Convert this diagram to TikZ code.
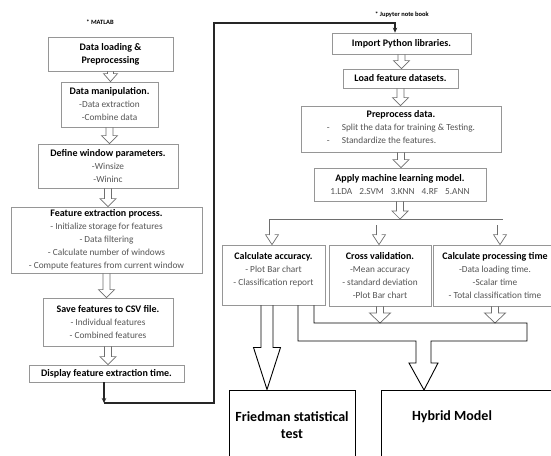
\documentclass[tikz,border=0pt]{standalone}
\usepackage{fontspec}
\setmainfont{Carlito}
\usetikzlibrary{calc,arrows.meta}

\definecolor{boxgray}{RGB}{150,150,150}
\definecolor{itemgray}{RGB}{85,85,85}
\definecolor{arrowgray}{RGB}{110,110,110}

\newcommand{\steptitle}[1]{\textcolor{black}{\fontsize{10}{13}\selectfont\bfseries #1}}
% hollow arrow pointing down: style, from, to, shaft half width, head half width, head length
\newcommand{\hollowdown}[6]{%
  \draw[#1] let \p1=(#2), \p2=(#3) in
    (\x1-#4,\y1) -- (\x1-#4,\y2+#6) -- (\x1-#5,\y2+#6) -- (\x1,\y2)
    -- (\x1+#5,\y2+#6) -- (\x1+#4,\y2+#6) -- (\x1+#4,\y1);}

\tikzset{
  stepbox/.style={draw=boxgray, line width=0.8pt, fill=white, align=center, inner sep=1pt,
    text=itemgray, font=\fontsize{9.3}{13}\selectfont},
  resultbox/.style={draw=black, line width=1pt, align=center, font=\fontsize{14}{17}\selectfont\bfseries},
  tooltag/.style={font=\fontsize{6.5}{8}\selectfont\bfseries},
  hollow/.style={draw=arrowgray, line width=0.7pt},
  pipe/.style={draw=arrowgray, line width=0.7pt, double=white, double distance=5pt},
  bigpipe/.style={draw=black, line width=0.9pt},
  link/.style={draw=black!85, line width=1.3pt, -{Stealth[length=5pt,width=4.5pt]}}
}

\begin{document}
\begin{tikzpicture}[x=1pt,y=-1pt]
\clip (0,0) rectangle (551,455);
\fill[white] (0,0) rectangle (551,455);

% MATLAB side
\node[tooltag] (matlab) at (100,22) {* MATLAB};
\node[stepbox, minimum width=125pt, minimum height=34pt] (dataload) at (110.5,54)
  {\steptitle{Data loading \&}\\\steptitle{Preprocessing}};
\node[stepbox, minimum width=97pt, minimum height=45pt] (manip) at (109.5,104.5)
  {\steptitle{Data manipulation.}\\-Data extraction\\-Combine data};
\node[stepbox, minimum width=140pt, minimum height=44pt] (winparam) at (108,166)
  {\steptitle{Define window parameters.}\\-Winsize\\-Wininc};
\node[stepbox, minimum width=191pt, minimum height=66pt] (featext) at (106.5,240)
  {\steptitle{Feature extraction process.}\\- Initialize storage for features\\- Data filtering\\- Calculate number of windows\\- Compute features from current window};
\node[stepbox, minimum width=130pt, minimum height=48pt] (savecsv) at (108,322)
  {\steptitle{Save features to CSV file.}\\- Individual features\\- Combined features};
\node[stepbox, minimum width=155pt, minimum height=17pt] (disptime) at (106.5,373.5)
  {\steptitle{Display feature extraction time.}};

\hollowdown{hollow}{dataload.south}{manip.north}{3pt}{7pt}{8pt}
\hollowdown{hollow}{manip.south}{winparam.north}{3.5pt}{8pt}{8pt}
\hollowdown{hollow}{winparam.south}{featext.north}{3.5pt}{8pt}{8pt}
\hollowdown{hollow}{featext.south}{savecsv.north}{3.5pt}{8pt}{8pt}
\hollowdown{hollow}{savecsv.south}{disptime.north}{3.5pt}{8pt}{8pt}

% Jupyter side
\node[tooltag] (jupyter) at (402,15) {* Jupyter note book};
\node[stepbox, minimum width=139pt, minimum height=21pt] (import) at (401.5,43.5)
  {\steptitle{Import Python libraries.}};
\node[stepbox, minimum width=115pt, minimum height=19pt] (loadfeat) at (400.5,78.5)
  {\steptitle{Load feature datasets.}};
\node[stepbox, minimum width=200pt, minimum height=46pt] (preproc) at (401,129)
  {\steptitle{Preprocess data.}\\[1pt]
   \begin{tabular}{@{}l@{\hspace{12pt}}l@{}}-&Split the data for training \& Testing.\\-&Standardize the features.\end{tabular}};
\node[stepbox, minimum width=172pt, minimum height=33pt] (apply) at (400,184.5)
  {\steptitle{Apply machine learning model.}\\1.LDA\hspace{7pt}2.SVM\hspace{7pt}3.KNN\hspace{7pt}4.RF\hspace{7pt}5.ANN};
\node[stepbox, minimum width=103pt, minimum height=60pt] (acc) at (273.5,275)
  {\steptitle{Calculate accuracy.}\\- Plot Bar chart\\- Classification report\\\mbox{}};
\node[stepbox, minimum width=102pt, minimum height=61pt] (cross) at (380,275.5)
  {\steptitle{Cross validation.}\\-Mean accuracy\\- standard deviation\\-Plot Bar chart};
\node[stepbox, minimum width=124pt, minimum height=61pt] (proc) at (495,275.5)
  {\steptitle{Calculate processing time}\\-Data loading time.\\-Scalar time\\- Total classification time};

\hollowdown{hollow}{import.south}{loadfeat.north}{3.5pt}{8pt}{8pt}
\hollowdown{hollow}{loadfeat.south}{preproc.north}{3.5pt}{8pt}{8pt}
\hollowdown{hollow}{preproc.south}{apply.north}{3.5pt}{8pt}{8pt}

% split to the three result boxes
\coordinate (splittop) at (0,219);
\coordinate (brA) at (272,235);
\coordinate (brB) at (379,235);
\coordinate (brC) at (500,235);
\hollowdown{hollow}{apply.south}{apply.south |- splittop}{3.5pt}{8pt}{8pt}
\draw[pipe] (brA) |- (brC |- 0,222) -- (brC) (brB |- 0,222) -- (brB);
\hollowdown{hollow}{brA}{acc.north -| brA}{2.85pt}{6.5pt}{10pt}
\hollowdown{hollow}{brB}{cross.north -| brB}{2.85pt}{6.5pt}{10pt}
\hollowdown{hollow}{brC}{proc.north -| brC}{2.85pt}{6.5pt}{10pt}

% final steps
\node[resultbox, minimum width=126pt, minimum height=70pt] (fried) at (292,425)
  {Friedman statistical\\test};
\node[resultbox, minimum width=190pt, minimum height=80pt, anchor=north west] (hybrid) at (381,390) {};
\node[font=\fontsize{14}{17}\selectfont\bfseries] (hybridtxt) at (452,417) {Hybrid Model};

\coordinate (pipetop) at (0,323);
\hollowdown{hollow}{cross.south}{cross.south |- pipetop}{3.5pt}{10.5pt}{10pt}
\hollowdown{hollow}{proc.south}{proc.south |- pipetop}{3.5pt}{10.5pt}{10pt}
\hollowdown{bigpipe}{[xshift=-6.5pt]acc.south}{fried.north}{6pt}{13.5pt}{42pt}
\draw[bigpipe] ([xshift=24.5pt]acc.south) |- (416,341) |- (409,363)
  -- ([xshift=43pt]hybrid.north west) -- (438,363) -| (431,341) -| (527,323)
  -| ([xshift=40.5pt]acc.south);

% link from MATLAB to Jupyter
\coordinate (turnA) at (104,403);
\coordinate (turnB) at (214,23);
\draw[link] ([xshift=-2.5pt]disptime.south) -- (turnA);
\draw[link] (turnA) -| (turnB) -| ([xshift=-6.5pt]import.north);
\end{tikzpicture}
\end{document}
